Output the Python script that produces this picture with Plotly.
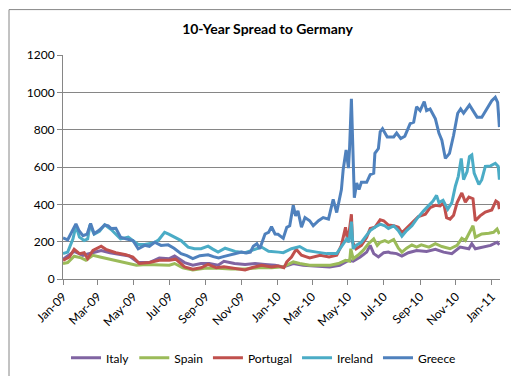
import plotly.graph_objects as go

# ---------------- data ----------------
italy_dates = ["2009-01-01","2009-01-20","2009-02-04","2009-02-21","2009-03-07","2009-03-22","2009-04-08","2009-04-24",
               "2009-05-09","2009-05-28","2009-06-14","2009-07-01","2009-07-10","2009-07-27","2009-08-10","2009-08-24",
               "2009-09-07","2009-09-22","2009-10-02","2009-10-20","2009-11-07","2009-11-24","2009-12-11","2009-12-28",
               "2010-01-11","2010-01-28","2010-02-14","2010-03-08","2010-03-31","2010-04-17","2010-05-02","2010-05-10",
               "2010-05-22","2010-06-02","2010-06-08","2010-06-14","2010-06-22","2010-07-01","2010-07-09","2010-07-12",
               "2010-07-23","2010-08-01","2010-08-12","2010-08-26","2010-09-12","2010-09-27","2010-10-11","2010-10-25",
               "2010-11-08","2010-11-23","2010-11-28","2010-12-04","2010-12-18","2010-12-30","2011-01-10","2011-01-14"]
italy_values = [106,148,127,141,153,141,130,123,
                88,88,113,109,123,88,74,83,
                83,74,95,83,78,83,78,74,
                65,83,74,70,65,74,100,95,
                118,144,180,136,118,141,144,141,
                136,123,141,153,148,159,144,136,
                171,162,189,162,171,180,197,183]

spain_dates = ["2009-01-01","2009-01-09","2009-01-20","2009-02-01","2009-02-09","2009-02-21","2009-03-05","2009-03-22",
               "2009-04-08","2009-04-24","2009-05-06","2009-05-23","2009-06-09","2009-07-01","2009-07-10","2009-07-24",
               "2009-08-10","2009-08-30","2009-09-22","2009-10-14","2009-11-07","2009-11-30","2009-12-22","2010-01-11",
               "2010-01-28","2010-02-08","2010-02-25","2010-03-15","2010-04-01","2010-04-15","2010-04-27","2010-05-04",
               "2010-05-06","2010-05-10","2010-05-18","2010-05-27","2010-06-05","2010-06-14","2010-06-20","2010-06-25",
               "2010-07-03","2010-07-09","2010-07-18","2010-07-26","2010-08-01","2010-08-09","2010-08-18","2010-08-26",
               "2010-09-03","2010-09-16","2010-09-27","2010-10-08","2010-10-22","2010-11-03","2010-11-11","2010-11-17",
               "2010-11-24","2010-11-30","2010-12-04","2010-12-15","2010-12-27","2011-01-04","2011-01-10","2011-01-14"]
spain_values = [83,88,122,113,100,127,118,106,
                95,83,74,78,78,74,83,60,
                48,57,57,53,53,60,60,65,
                92,83,74,74,74,83,100,95,
                162,109,127,153,189,215,180,197,
                206,197,212,165,144,165,183,171,
                183,171,189,174,162,180,218,206,
                250,285,224,241,245,250,268,241]

portugal_dates = ["2009-01-01","2009-01-12","2009-01-20","2009-01-29","2009-02-06","2009-02-12","2009-02-21","2009-03-07",
                  "2009-03-15","2009-04-01","2009-04-18","2009-04-30","2009-05-11","2009-05-28","2009-06-14","2009-07-01",
                  "2009-07-12","2009-07-27","2009-08-10","2009-08-24","2009-09-05","2009-09-19","2009-10-02","2009-10-20",
                  "2009-11-07","2009-11-18","2009-12-05","2009-12-22","2010-01-02","2010-01-12","2010-01-17","2010-01-25",
                  "2010-02-02","2010-02-11","2010-02-25","2010-03-15","2010-03-30","2010-04-12","2010-04-20","2010-04-27",
                  "2010-05-01","2010-05-07","2010-05-09","2010-05-15","2010-05-24","2010-06-02","2010-06-08","2010-06-16",
                  "2010-06-25","2010-07-01","2010-07-09","2010-07-18","2010-07-26","2010-08-01","2010-08-09","2010-08-18",
                  "2010-08-29","2010-09-10","2010-09-18","2010-09-27","2010-10-05","2010-10-11","2010-10-16","2010-10-22",
                  "2010-10-28","2010-11-03","2010-11-07","2010-11-11","2010-11-17","2010-11-23","2010-11-30","2010-12-04",
                  "2010-12-12","2010-12-21","2011-01-01","2011-01-08","2011-01-12","2011-01-14"]
portugal_values = [100,118,159,136,141,109,153,176,
                   159,141,130,118,83,88,100,100,
                   106,65,53,60,78,60,65,57,
                   48,60,74,65,70,60,92,118,
                   159,127,113,127,118,127,180,277,
                   197,347,197,162,180,224,271,277,
                   317,312,289,285,277,247,271,303,
                   335,347,382,395,391,409,329,321,
                   342,409,435,461,412,439,430,312,
                   338,359,370,418,409,374]

ireland_dates = ["2009-01-01","2009-01-09","2009-01-18","2009-01-23","2009-01-29","2009-02-06","2009-02-12","2009-02-16",
                 "2009-02-23","2009-03-04","2009-03-13","2009-03-24","2009-04-01","2009-04-09","2009-04-22","2009-04-30",
                 "2009-05-09","2009-05-20","2009-06-06","2009-06-13","2009-06-23","2009-06-30","2009-07-10","2009-07-21",
                 "2009-08-02","2009-08-13","2009-08-24","2009-09-05","2009-09-13","2009-09-22","2009-10-04","2009-10-21",
                 "2009-11-07","2009-11-24","2009-12-05","2009-12-17","2009-12-25","2010-01-03","2010-01-11","2010-01-25",
                 "2010-02-08","2010-02-20","2010-03-09","2010-03-26","2010-04-12","2010-04-20","2010-04-29","2010-05-03",
                 "2010-05-07","2010-05-10","2010-05-16","2010-05-24","2010-06-02","2010-06-08","2010-06-16","2010-06-25",
                 "2010-07-03","2010-07-09","2010-07-18","2010-07-26","2010-08-01","2010-08-09","2010-08-18","2010-08-26",
                 "2010-09-07","2010-09-16","2010-09-23","2010-09-29","2010-10-03","2010-10-10","2010-10-18","2010-10-25",
                 "2010-10-31","2010-11-05","2010-11-10","2010-11-14","2010-11-20","2010-11-24","2010-11-28","2010-12-02",
                 "2010-12-10","2010-12-15","2010-12-21","2010-12-30","2011-01-07","2011-01-12","2011-01-14"]
ireland_values = [136,144,215,285,224,206,215,290,
                  240,255,290,265,240,215,224,205,
                  185,185,195,210,250,240,224,206,
                  171,162,162,176,160,144,165,148,
                  141,159,171,148,148,144,141,162,
                  174,153,144,136,136,171,215,197,
                  307,162,183,197,233,259,277,294,
                  285,271,285,259,229,259,285,321,
                  365,395,418,448,409,421,374,409,
                  497,550,646,532,576,655,664,567,
                  506,532,603,606,620,603,532]

greece_dates = ["2009-01-01","2009-01-09","2009-01-23","2009-01-28","2009-02-04","2009-02-11","2009-02-17","2009-02-23",
                "2009-03-04","2009-03-13","2009-03-19","2009-03-24","2009-04-01","2009-04-09","2009-04-18","2009-04-30",
                "2009-05-09","2009-05-20","2009-05-28","2009-06-06","2009-06-17","2009-06-29","2009-07-09","2009-07-21",
                "2009-07-31","2009-08-10","2009-08-22","2009-09-05","2009-09-14","2009-09-23","2009-10-01","2009-10-10",
                "2009-10-20","2009-11-01","2009-11-09","2009-11-16","2009-11-21","2009-11-27","2009-12-02","2009-12-11",
                "2009-12-17","2009-12-22","2009-12-28","2010-01-02","2010-01-11","2010-01-17","2010-01-22","2010-01-28",
                "2010-02-01","2010-02-05","2010-02-11","2010-02-17","2010-02-25","2010-03-03","2010-03-12","2010-03-20",
                "2010-03-29","2010-04-06","2010-04-12","2010-04-20","2010-04-23","2010-04-28","2010-05-02","2010-05-04",
                "2010-05-07","2010-05-12","2010-05-16","2010-05-20","2010-05-24","2010-06-02","2010-06-08","2010-06-14",
                "2010-06-16","2010-06-22","2010-06-25","2010-06-29","2010-07-07","2010-07-18","2010-07-23","2010-07-30",
                "2010-08-06","2010-08-15","2010-08-21","2010-08-26","2010-09-01","2010-09-08","2010-09-12","2010-09-18",
                "2010-09-27","2010-10-03","2010-10-08","2010-10-14","2010-10-21","2010-10-28","2010-11-04","2010-11-09",
                "2010-11-14","2010-11-20","2010-11-24","2010-11-30","2010-12-07","2010-12-15","2010-12-24","2011-01-01",
                "2011-01-07","2011-01-11","2011-01-14"]
greece_values = [220,210,295,260,232,240,298,243,
                 262,290,285,270,271,224,215,206,
                 162,180,175,197,180,183,165,136,
                 125,109,125,130,120,113,120,127,
                 135,144,140,144,175,189,162,241,
                 250,280,241,240,218,277,285,395,
                 338,365,277,329,312,285,312,329,
                 321,427,356,479,585,691,594,708,
                 965,435,514,479,518,518,559,567,
                 673,699,788,805,761,761,782,752,
                 765,832,840,923,902,950,902,911,
                 858,782,744,646,673,770,888,911,
                 888,911,932,902,867,867,911,955,
                 973,946,814]

series_names = ["Italy", "Spain", "Portugal", "Ireland", "Greece"]
series_colors = ["#8064A2", "#9BBB59", "#C0504D", "#4BACC6", "#4F81BD"]

tick_dates = ["2009-01-01","2009-03-01","2009-05-01","2009-07-01","2009-09-01","2009-11-01","2010-01-01",
              "2010-03-01","2010-05-01","2010-07-01","2010-09-01","2010-11-01","2011-01-01"]
tick_labels = ["Jan-09","Mar-09","May-09","Jul-09","Sep-09","Nov-09","Jan-10",
               "Mar-10","May-10","Jul-10","Sep-10","Nov-10","Jan-11"]

y_tick_values = [0, 200, 400, 600, 800, 1000, 1200]

# ---------------- figure ----------------
all_dates = [italy_dates, spain_dates, portugal_dates, ireland_dates, greece_dates]
all_values = [italy_values, spain_values, portugal_values, ireland_values, greece_values]

fig = go.Figure()
for name, color, xs, ys in zip(series_names, series_colors, all_dates, all_values):
    fig.add_trace(go.Scatter(x=xs, y=ys, mode="lines", name=name,
                             line=dict(color=color, width=3)))

axis_col = "#868686"
font_family = "Lato, 'Open Sans', sans-serif"

fig.update_layout(
    width=519, height=376,
    margin=dict(l=55, r=27, t=47, b=102),
    paper_bgcolor="white", plot_bgcolor="white",
    title=dict(text="<b>10-Year Spread to Germany</b>", x=0.5, xanchor="center",
               y=1 - 21/376, yanchor="middle",
               font=dict(family=font_family, size=14, color="black")),
    font=dict(family=font_family, size=12, color="black"),
    showlegend=True,
    legend=dict(orientation="h", x=0.5 - 18/437, xanchor="center", y=-0.352, yanchor="middle",
                font=dict(family=font_family, size=12, color="black"),
                bgcolor="rgba(0,0,0,0)", itemwidth=30, tracegroupgap=0),
    xaxis=dict(type="date", range=["2009-01-01", "2011-01-15"],
               tickvals=tick_dates, ticktext=tick_labels, tickangle=-45,
               showgrid=False, showline=True, linecolor=axis_col, linewidth=1,
               ticks="outside", ticklen=5, tickcolor=axis_col,
               tickfont=dict(family=font_family, size=12, color="black"),
               zeroline=False),
    yaxis=dict(range=[0, 1200], tickvals=y_tick_values,
               showgrid=True, gridcolor=axis_col, gridwidth=1,
               showline=True, linecolor=axis_col, linewidth=1,
               ticks="outside", ticklen=5, tickcolor=axis_col,
               tickfont=dict(family=font_family, size=12, color="black"),
               zeroline=False),
    shapes=[dict(type="rect", xref="paper", yref="paper",
                 x0=(1 - 55) / 437, x1=(516 - 55) / 437,
                 y0=(274 - 373) / 227, y1=(274 - 1) / 227,
                 line=dict(color=axis_col, width=1), fillcolor="rgba(0,0,0,0)", layer="below")],
)

fig.write_html("out.html")
